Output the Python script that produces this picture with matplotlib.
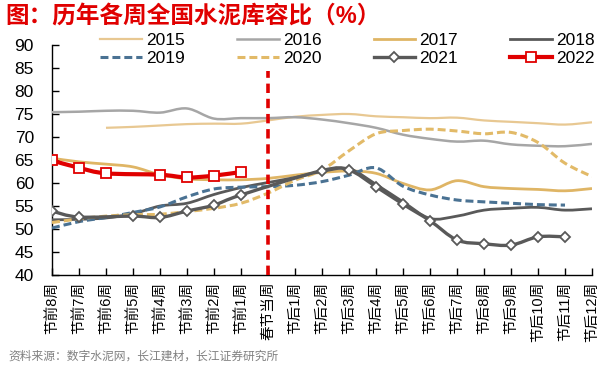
import numpy as np
import matplotlib
matplotlib.use('Agg')
import matplotlib.pyplot as plt
from matplotlib.path import Path
from matplotlib.patches import PathPatch
from matplotlib.lines import Line2D

plt.rcParams['font.family'] = ['Liberation Sans', 'Noto Sans CJK SC']

nan = np.nan

##  data
weeks = ['节前8周', '节前7周', '节前6周', '节前5周', '节前4周', '节前3周', '节前2周', '节前1周',
         '春节当周',
         '节后1周', '节后2周', '节后3周', '节后4周', '节后5周', '节后6周', '节后7周',
         '节后8周', '节后9周', '节后10周', '节后11周', '节后12周']

y2015 = [nan, nan, 72.0, 72.2, 72.5, 72.8, 72.9, 72.9, 73.6, 74.4, 74.8, 75.0,
         74.5, 74.3, 74.1, 74.2, 73.6, 73.3, 73.0, 72.7, 73.2]
y2016 = [75.4, 75.5, 75.7, 75.7, 75.3, 76.2, 74.0, 74.1, 74.1, 74.3, 73.8, 73.0,
         72.0, 70.5, 69.6, 69.0, 69.2, 68.4, 68.1, 68.0, 68.5]
y2017 = [65.4, 64.6, 64.1, 63.5, 61.8, 60.9, 60.7, 60.7, 61.0, 61.7, 62.3, 62.6,
         62.1, 59.9, 58.5, 60.5, 59.2, 58.8, 58.6, 58.3, 58.8]
y2018 = [52.0, 52.1, 52.4, 53.3, 55.0, 55.6, 57.5, 59.0, 60.1, 61.2, 62.5, 63.1,
         59.7, 55.9, 52.3, 52.8, 54.1, 54.5, 54.7, 54.1, 54.4]
y2019 = [50.2, 51.6, 52.5, 53.6, 54.8, 57.0, 58.7, 59.1, 59.2, 59.5, 60.3, 61.7,
         63.3, 59.3, 57.4, 56.3, 55.9, 55.6, 55.3, 55.2, nan]
y2020 = [51.4, 52.2, 52.8, 53.1, 53.2, 53.8, 54.5, 55.6, 57.8, 60.6, 62.8, 67.0,
         70.7, 71.4, 71.7, 71.3, 70.7, 71.0, 68.8, 64.3, 61.4]
y2021 = [53.9, 52.6, nan, 52.8, 52.5, 53.9, 55.2, 57.4, nan, nan, 62.7, 62.8,
         59.2, 55.4, 51.8, 47.6, 46.8, 46.5, 48.3, 48.3, nan]
y2022 = [64.9, 63.3, 62.1, nan, 61.8, 61.2, 61.6, 62.4, nan, nan, nan, nan,
         nan, nan, nan, nan, nan, nan, nan, nan, nan]

years = ['2015', '2016', '2017', '2018', '2019', '2020', '2021', '2022']
series = [y2015, y2016, y2017, y2018, y2019, y2020, y2021, y2022]

# style per year: color, linewidth, linestyle, marker
styles = {
    '2015': ('#E8C892', 1.6, '-', None),
    '2016': ('#A6A6A6', 1.8, '-', None),
    '2017': ('#DFB565', 2.0, '-', None),
    '2018': ('#595959', 2.0, '-', None),
    '2019': ('#4A7293', 2.2, (0, (2.6, 1.3)), None),
    '2020': ('#E2BA68', 2.2, (0, (2.6, 1.3)), None),
    '2021': ('#595959', 2.4, '-', 'D'),
    '2022': ('#E00000', 3.0, '-', 's'),
}


def smooth_path(xs, ys):
    # excel-like smoothed line through the points (skips empty weeks)
    p = np.array([(a, b) for a, b in zip(xs, ys) if not np.isnan(b)])
    verts = [p[0]]
    codes = [Path.MOVETO]
    for i in range(len(p) - 1):
        p0 = p[i - 1] if i > 0 else p[i]
        p3 = p[i + 2] if i + 2 < len(p) else p[i + 1]
        c1 = p[i] + (p[i + 1] - p0) / 6.0
        c2 = p[i + 1] - (p3 - p[i]) / 6.0
        verts += [c1, c2, p[i + 1]]
        codes += [Path.CURVE4] * 3
    return Path(verts, codes)


fig = plt.figure(figsize=(6.07, 3.68), dpi=100)
ax = fig.add_axes([52 / 607, 1 - 275 / 368, 540 / 607, 230 / 368])

x = np.arange(len(weeks))
handles = {}
for k, (yr, ys) in enumerate(zip(years, series)):
    col, lw, ls, mk = styles[yr]
    ys = np.array(ys, dtype=float)
    patch = PathPatch(smooth_path(x, ys), fill=False, edgecolor=col, lw=lw,
                      linestyle=ls, capstyle='butt', zorder=2 + k)
    ax.add_patch(patch)
    ms = 5.5 if mk == 'D' else 7.5
    if mk is not None:
        ax.plot(x, ys, linestyle='none', marker=mk, markersize=ms,
                markerfacecolor='white', markeredgecolor=col,
                markeredgewidth=1.3, zorder=3 + k)
    handles[yr] = Line2D([], [], color=col, lw=lw, linestyle=ls, marker=mk,
                         markersize=ms, markerfacecolor='white',
                         markeredgecolor=col, markeredgewidth=1.3)

# spring festival week marker
spring = weeks.index('春节当周')
ax.vlines(spring, 40, 84.3, colors='#E00000', linestyles=(0, (2.6, 1.6)),
          lw=2.6, zorder=20)

ax.set_xlim(0, len(weeks) - 1)
ax.set_ylim(40, 90)
ax.set_yticks(np.arange(40, 91, 5))
ax.set_xticks(x)
ax.set_xticklabels(weeks, rotation=90, fontsize=10.5, va='top')
ax.tick_params(axis='y', direction='in', length=5, width=1, pad=13, labelsize=12.5)
ax.tick_params(axis='x', direction='in', length=5, width=1, pad=5)
for s in ['top', 'right']:
    ax.spines[s].set_visible(False)
for s in ['left', 'bottom']:
    ax.spines[s].set_linewidth(1.0)

# legend filled row by row (matplotlib fills by column)
order = ['2015', '2019', '2016', '2020', '2017', '2021', '2018', '2022']
ax.legend([handles[o] for o in order], order, ncol=4, loc='upper left',
          bbox_to_anchor=(100 / 607, 1 - 33 / 368), bbox_transform=fig.transFigure,
          frameon=False, fontsize=12.5, handlelength=2.4, handletextpad=0.25,
          columnspacing=3.0, labelspacing=0.15, borderpad=0, borderaxespad=0)

fig.text(5 / 607, 1 - 17 / 368, '图：历年各周全国水泥库容比（%）', fontsize=17,
         fontweight='bold', color='#E00000', va='center', ha='left')
fig.text(8 / 607, 1 - 357 / 368, '资料来源：数字水泥网，长江建材，长江证券研究所',
         fontsize=8.5, color='#808080', va='center', ha='left')

plt.savefig('out.png', dpi=100)
